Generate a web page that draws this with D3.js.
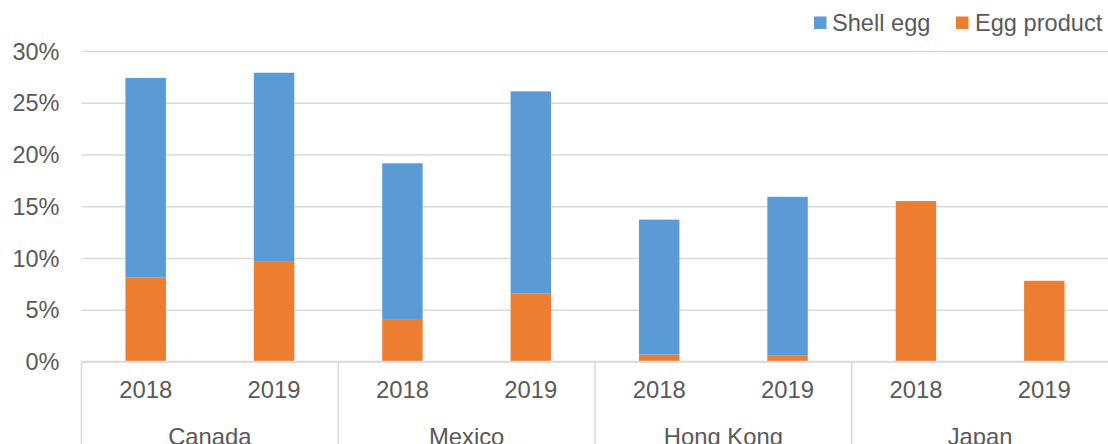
<!DOCTYPE html>
<html>
<head>
<meta charset="utf-8">
<script src="https://cdn.jsdelivr.net/npm/d3@7"></script>
<style>
  html, body { margin: 0; padding: 0; background: #fff; }
  svg { display: block; font-family: "Liberation Sans", Arial, sans-serif; }
</style>
</head>
<body>
<svg id="chart" width="1108" height="444"></svg>
<script>
const countries = ["Canada", "Mexico", "Hong Kong", "Japan"];
const years = ["2018", "2019"];
const seriesNames = ["Shell egg", "Egg product"];
const shellEgg   = [0.193, 0.182, 0.1505, 0.1955, 0.1305, 0.1535, 0, 0];
const eggProduct = [0.081, 0.097, 0.041, 0.0655, 0.0066, 0.0056, 0.155, 0.078];
const yTicks = [0, 0.05, 0.10, 0.15, 0.20, 0.25, 0.30];
const colors = ["#5B9BD5", "#ED7D31"];

const svg = d3.select("#chart");
const W = 1108, H = 444;
const x0 = 81.5, x1 = 1108.5, yBottom = 361.5, yTop = 51;
const textColor = "#595959";
const gridColor = "#D9D9D9";

const rows = [];
countries.forEach((c, ci) => years.forEach((yr, yi) => {
  const i = ci * years.length + yi;
  rows.push({ key: c + "|" + yr, country: c, year: yr, "Shell egg": shellEgg[i], "Egg product": eggProduct[i] });
}));

const x = d3.scaleBand().domain(rows.map(d => d.key)).range([x0, x1]).paddingInner(0.685).paddingOuter(0.3425);
const xg = d3.scaleBand().domain(countries).range([x0, x1]);
const y = d3.scaleLinear().domain([0, 0.30]).range([yBottom, yTop]);

const yAxis = d3.axisLeft(y).tickValues(yTicks).tickFormat(d3.format(".0%")).tickSize(0).tickPadding(0);
const gy = svg.append("g").attr("transform", `translate(${x0},0)`).call(yAxis);
gy.select(".domain").remove();
gy.selectAll(".tick text")
  .attr("x", -22).attr("fill", textColor).attr("font-size", 23.5).attr("dy", "0.35em")
  .attr("font-family", "Liberation Sans, Arial, sans-serif");
gy.selectAll(".tick").append("line")
  .attr("x1", 0).attr("x2", x1 - x0).attr("stroke", gridColor).attr("stroke-width", 1.5);

const stack = d3.stack().keys(["Egg product", "Shell egg"]);
const stacked = stack(rows);
svg.append("g").selectAll("g").data(stacked).join("g")
  .attr("fill", d => colors[seriesNames.indexOf(d.key)])
  .selectAll("rect").data(d => d).join("rect")
  .attr("x", d => x(d.data.key))
  .attr("width", x.bandwidth())
  .attr("y", d => y(d[1]))
  .attr("height", d => Math.max(0, y(d[0]) - y(d[1])));

svg.append("line").attr("x1", x0).attr("x2", x1).attr("y1", yBottom).attr("y2", yBottom)
  .attr("stroke", gridColor).attr("stroke-width", 1.5);

const seps = countries.map(c => xg(c));
svg.append("g").selectAll("line").data(seps).join("line")
  .attr("x1", d => d).attr("x2", d => d).attr("y1", yBottom).attr("y2", H)
  .attr("stroke", gridColor).attr("stroke-width", 1.5);

svg.append("g").selectAll("text").data(rows).join("text")
  .attr("x", d => x(d.key) + x.bandwidth() / 2).attr("y", 398)
  .attr("text-anchor", "middle").attr("fill", textColor).attr("font-size", 23.8)
  .text(d => d.year);

svg.append("g").selectAll("text").data(countries).join("text")
  .attr("x", d => xg(d) + xg.bandwidth() / 2).attr("y", 444.5)
  .attr("text-anchor", "middle").attr("fill", textColor).attr("font-size", 23.8)
  .text(d => d);

const legendItems = [
  { name: seriesNames[0], color: colors[0], sx: 814, tx: 832 },
  { name: seriesNames[1], color: colors[1], sx: 956, tx: 975 }
];
const lg = svg.append("g");
lg.selectAll("rect").data(legendItems).join("rect")
  .attr("x", d => d.sx).attr("y", 16.5).attr("width", 12.5).attr("height", 12.5)
  .attr("fill", d => d.color);
lg.selectAll("text").data(legendItems).join("text")
  .attr("x", d => d.tx).attr("y", 30.5).attr("fill", textColor).attr("font-size", 23.6)
  .text(d => d.name);
</script>
</body>
</html>
